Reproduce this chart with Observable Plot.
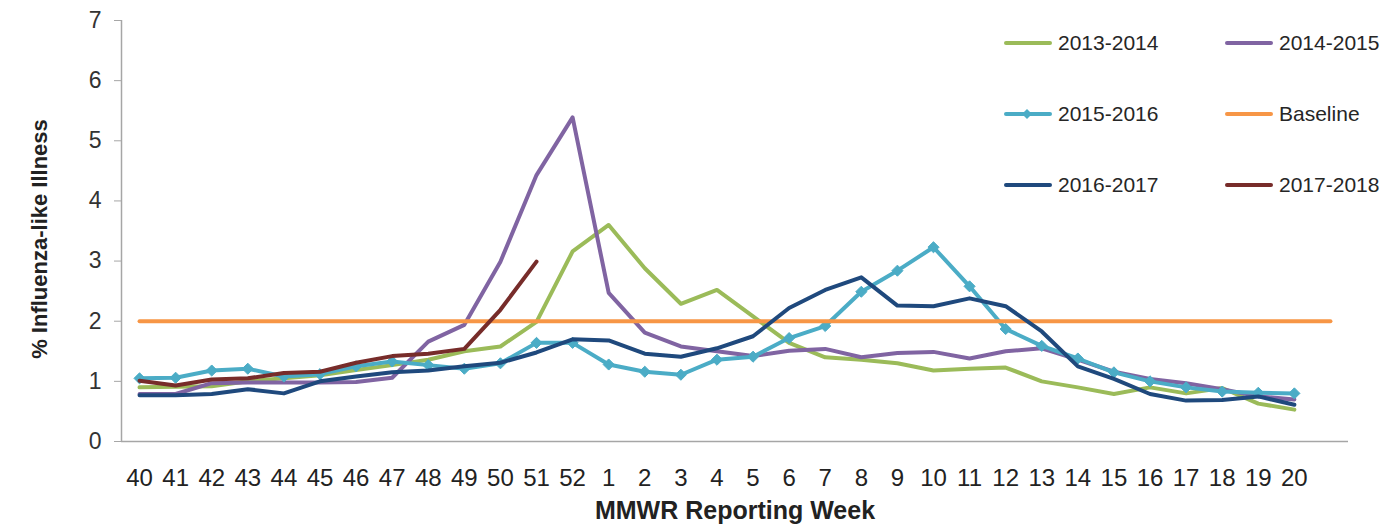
<!DOCTYPE html>
<html>
<head>
<meta charset="utf-8">
<script src="https://cdn.jsdelivr.net/npm/d3@7"></script>
<script src="https://cdn.jsdelivr.net/npm/@observablehq/plot@0.6"></script>
<style>
  html, body { margin: 0; padding: 0; background: #fff; }
  #wrap { position: relative; width: 1395px; height: 529px; font-family: "Liberation Sans", Arial, sans-serif; }
  #legend { position: absolute; left: 1003px; top: 27px; display: grid; grid-template-columns: 221px 170px; grid-auto-rows: 71px; }
  .item { display: flex; align-items: center; height: 32px; font-size: 21px; color: #262626; white-space: nowrap; }
  .item svg { margin-right: 5px; flex: none; }
</style>
</head>
<body>
<div id="wrap"><div id="legend"></div></div>
<script>
const weeks = ["40","41","42","43","44","45","46","47","48","49","50","51","52","1","2","3","4","5","6","7","8","9","10","11","12","13","14","15","16","17","18","19","20"];
const s2013 = [0.90,0.91,0.92,1.00,1.05,1.10,1.19,1.27,1.36,1.50,1.58,1.99,3.16,3.60,2.88,2.29,2.52,2.08,1.64,1.40,1.36,1.30,1.18,1.21,1.23,1.00,0.90,0.79,0.90,0.80,0.89,0.63,0.53];
const s2014 = [0.79,0.79,0.97,0.98,0.98,0.98,0.99,1.06,1.66,1.94,2.99,4.43,5.39,2.47,1.81,1.58,1.50,1.42,1.51,1.54,1.40,1.47,1.49,1.38,1.50,1.55,1.36,1.16,1.04,0.97,0.87,0.75,0.70];
const s2015 = [1.05,1.06,1.18,1.21,1.08,1.12,1.25,1.33,1.27,1.21,1.30,1.64,1.64,1.28,1.16,1.11,1.36,1.41,1.72,1.92,2.49,2.84,3.23,2.58,1.87,1.59,1.38,1.15,1.00,0.90,0.83,0.81,0.80];
const baseline = [2,2,2,2,2,2,2,2,2,2,2,2,2,2,2,2,2,2,2,2,2,2,2,2,2,2,2,2,2,2,2,2,2,2];
const s2016 = [0.77,0.77,0.79,0.87,0.80,1.00,1.08,1.15,1.18,1.25,1.31,1.48,1.70,1.68,1.46,1.41,1.55,1.75,2.22,2.52,2.73,2.26,2.25,2.38,2.25,1.83,1.25,1.04,0.79,0.68,0.69,0.75,0.61];
const s2017 = [1.01,0.93,1.03,1.05,1.14,1.16,1.31,1.42,1.46,1.54,2.19,2.99];
const yTicks = [0,1,2,3,4,5,6,7];

const seriesNames = ["2013-2014","2014-2015","2015-2016","Baseline","2016-2017","2017-2018"];
const seriesColors = ["#9BBB59","#8064A2","#4BACC6","#F79646","#1F497D","#772C2A"];
const seriesValues = [s2013, s2014, s2015, baseline, s2016, s2017];

const lineMarks = seriesValues.map((vals, j) =>
  Plot.lineY(vals, {x: (d, i) => i, y: d => d, stroke: seriesColors[j], strokeWidth: 4, strokeLinejoin: "round", strokeLinecap: "round"})
);

const chart = Plot.plot({
  width: 1395,
  height: 529,
  marginLeft: 121,
  marginRight: 47,
  marginTop: 20,
  marginBottom: 88,
  style: {fontFamily: '"Liberation Sans", Arial, sans-serif', background: "transparent"},
  x: {type: "linear", domain: [-0.5, weeks.length + 0.5]},
  y: {domain: [0, 7]},
  marks: [
    Plot.ruleX([-0.5], {stroke: "#A6A6A6", strokeWidth: 1.5}),
    Plot.ruleY([0], {stroke: "#A6A6A6", strokeWidth: 1.5}),
    Plot.axisY(yTicks, {tickSize: 7, tickPadding: 13, stroke: "#A6A6A6", fontSize: 23, fill: "#333", tickFormat: d => String(d), label: null}),
    Plot.axisX(d3.range(weeks.length), {tickSize: 0, tickPadding: 27, fontSize: 24, fill: "#222", tickFormat: i => weeks[i], label: null}),
    ...lineMarks.slice(0, 3),
    Plot.dot(s2015, {x: (d, i) => i, y: d => d, symbol: "diamond2", r: 5, fill: seriesColors[2], stroke: seriesColors[2], strokeWidth: 1}),
    ...lineMarks.slice(3),
    Plot.text(["% Influenza-like Illness"], {frameAnchor: "left", textAnchor: "middle", rotate: -90, dx: -82, dy: 8, fontSize: 22, fontWeight: "bold", fill: "#222"}),
    Plot.text(["MMWR Reporting Week"], {frameAnchor: "bottom", dy: 77, fontSize: 25, fontWeight: "bold", fill: "#222"})
  ]
});
document.getElementById("wrap").prepend(chart);
chart.style.position = "absolute";
chart.style.left = "0";
chart.style.top = "0";

const legend = document.getElementById("legend");
seriesNames.forEach((name, j) => {
  const it = document.createElement("div");
  it.className = "item";
  const marker = j === 2 ? `<path d="M24,11 L29,16 L24,21 L19,16 Z" fill="${seriesColors[j]}"/>` : "";
  it.innerHTML = `<svg width="50" height="32"><line x1="3" y1="16" x2="47" y2="16" stroke="${seriesColors[j]}" stroke-width="4" stroke-linecap="round"/>${marker}</svg><span>${name}</span>`;
  legend.appendChild(it);
});
</script>
</body>
</html>
